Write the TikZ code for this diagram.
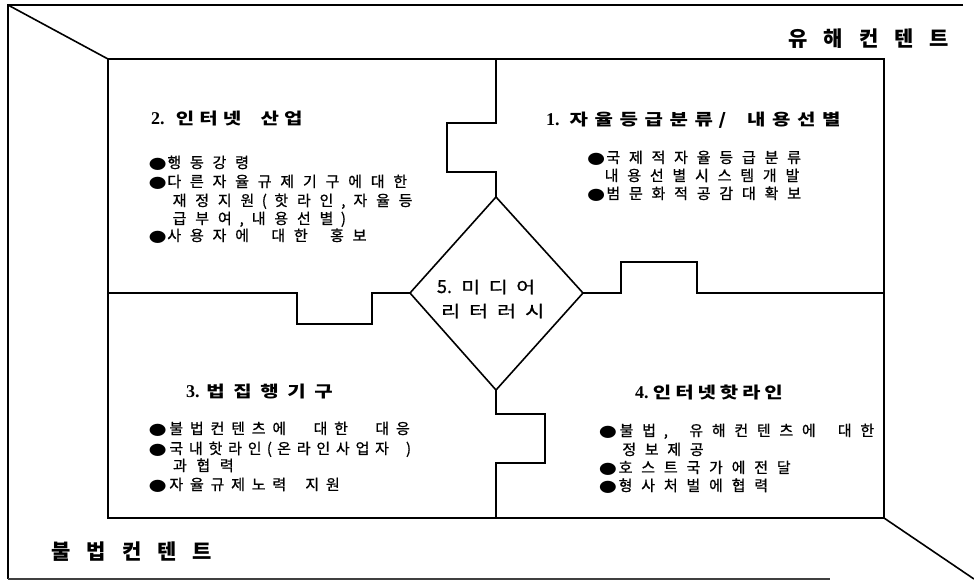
\documentclass[tikz,border=0pt]{standalone}
\usepackage{fontspec}
\usepackage{graphicx}
\newfontfamily\kr{Noto Sans CJK KR}
\newfontfamily\krb{Noto Sans CJK KR}[FakeBold=0.8]
\newfontfamily\numf{Liberation Serif}
\newfontfamily\bulf{DejaVu Sans}
% fixed-cell letter spacing
\newlength\adv \newlength\cw
\def\hsc{1}
\def\gap{\gap}
\def\spcchar#1{%
  \ifx#1~\hskip0.6\adv\relax
  \else\ifx#1\gap\hskip\adv\relax
  \else
    \cw=\adv
    \ifx#1,\cw=0.5\adv\fi
    \ifx#1(\cw=0.5\adv\fi
    \ifx#1)\cw=0.5\adv\fi
    \ifx#1.\cw=0.5\adv\fi
    \ifx#1/\cw=0.5\adv\fi
    \hbox to\cw{\hss\scalebox{\hsc}[1]{#1}\hss}%
  \fi\fi}
\def\spcloop#1{%
  \ifx#1\relax
  \else
    \spcchar#1%
    \expandafter\spcloop
  \fi}
\newcommand\spc[2]{\setlength\adv{#1}\spcloop#2\relax}
\newcommand\bul[1]{\makebox[#1][l]{\kern-1.5pt\scalebox{1.3}[1]{\bulf\fontsize{16}{16}\selectfont ●}}}
\newcommand\numbox[2]{\makebox[#1][l]{\numf\bfseries\fontsize{18}{18}\selectfont #2}}
\tikzset{
  ln/.style={line width=1.6pt, line join=miter},
  txt/.style={anchor=base west, inner sep=0pt, outer sep=0pt},
  body/.style={txt, font=\krb\fontsize{15}{15}\selectfont\def\hsc{1}},
  hd/.style={txt, font=\kr\bfseries\fontsize{16}{16}\selectfont\def\hsc{1.25}},
  dia/.style={txt, font=\krb\fontsize{16}{16}\selectfont\def\hsc{1.3}},
  ttl/.style={txt, font=\kr\bfseries\fontsize{21}{21}\selectfont\def\hsc{1}},
}
\begin{document}
\begin{tikzpicture}[x=1pt,y=-1pt]
\useasboundingbox (0,0) rectangle (974,582);
% frame corners
\coordinate (fTL) at (8,5);
\coordinate (fTR) at (963,5);
\coordinate (fBL) at (8,579);
\coordinate (fBR) at (830,579);
\coordinate (fDR) at (974,579);
\coordinate (iTL) at (108,59);
\coordinate (iBR) at (884,518);
\draw[ln] (fTR) -- (fTL) -- (fBL);
\draw[line width=1.2pt, black!75] (fBL) -- (fBR);
\draw[ln] (fTL) -- (iTL);
\draw[ln] (iBR) -- (fDR);
\draw[ln] (iTL) rectangle (iBR);
% diamond
\coordinate (dT) at (496,197);
\coordinate (dR) at (583,293);
\coordinate (dB) at (496,390);
\coordinate (dL) at (410,293);
\draw[ln] (dT) -- (dR) -- (dB) -- (dL) -- cycle;
% puzzle dividers
\coordinate (vT) at (496,59);
\coordinate (hL) at (108,293);
\coordinate (hR) at (884,293);
\coordinate (vB) at (496,518);
\draw[ln] (vT) -- (496,123) -- (447,123) -- (447,172) -- (496,172) -- (dT);
\draw[ln] (hL) -- (297,293) -- (297,324) -- (372,324) -- (372,293) -- (dL);
\draw[ln] (dR) -- (621,293) -- (621,262) -- (697,262) -- (697,293) -- (hR);
\draw[ln] (dB) -- (496,414) -- (545,414) -- (545,463) -- (496,463) -- (vB);
% titles
\node[ttl] (harm) at (780.3,46) {\spc{35.4pt}{유해컨텐트}};
\node[ttl] (illeg) at (43.3,559) {\spc{35.4pt}{불법컨텐트}};
% section 2
\node[hd] (h2) at (151,124) {\numbox{22.4pt}{2.}\spc{23.5pt}{인터넷~산업}};
\node[body] (s2a) at (150,168) {\bul{13pt}\spc{22.6pt}{행동강령}};
\node[body] (s2b) at (150,187) {\bul{13pt}\spc{22.6pt}{다른자율규제기구에대한}};
\node[body] (s2c) at (168.3,206) {\spc{22.6pt}{재정지원(핫라인,자율등}};
\node[body] (s2d) at (168.3,224) {\spc{22.6pt}{급부여,내용선별)}};
\node[body] (s2e) at (150,241) {\bul{13pt}\spc{22.6pt}{사용자에~대한~홍보}};
% section 1
\node[hd] (h1) at (546,125) {\numbox{20.3pt}{1.}\spc{25pt}{자율등급분류/~내용선별}};
\node[body] (s1a) at (588.7,163) {\bul{13.3pt}\spc{22.6pt}{국제적자율등급분류}};
\node[body] (s1b) at (600.3,181) {\spc{22.6pt}{내용선별시스템개발}};
\node[body] (s1c) at (588.7,199) {\bul{13.3pt}\spc{22.6pt}{범문화적공감대확보}};
% section 3
\node[hd] (h3) at (186,397) {\numbox{16pt}{3.}\spc{27pt}{법집행기구}};
\node[body] (s3a) at (150,434) {\bul{16pt}\spc{20.6pt}{불법컨텐츠에\gap 대한\gap 대응}};
\node[body] (s3b) at (150,454) {\bul{16.5pt}\spc{19.6pt}{국내핫라인(온라인사업자~)}};
\node[body] (s3c) at (168.3,471) {\spc{23.4pt}{과협력}};
\node[body] (s3d) at (150,490) {\bul{16pt}\spc{20.6pt}{자율규제노력~지원}};
% section 4
\node[hd] (h4) at (635,398) {\numbox{16pt}{4.}\spc{22.3pt}{인터넷핫라인}};
\node[body] (s4a) at (600.3,436) {\bul{15pt}\spc{22.5pt}{불법,~유해컨텐츠에~대한}};
\node[body] (s4b) at (618,455) {\spc{22.5pt}{정보제공}};
\node[body] (s4c) at (600.3,473) {\bul{14pt}\spc{22.6pt}{호스트국가에전달}};
\node[body] (s4d) at (600.3,491) {\bul{14pt}\spc{22.6pt}{형사처벌에협력}};
% section 5
\node[dia] (h5a) at (437,293) {\makebox[20pt][l]{\fontsize{18}{18}\selectfont 5.}\spc{27.5pt}{미디어}};
\node[dia] (h5b) at (436.7,317) {\spc{28pt}{리터러시}};
\end{tikzpicture}
\end{document}
